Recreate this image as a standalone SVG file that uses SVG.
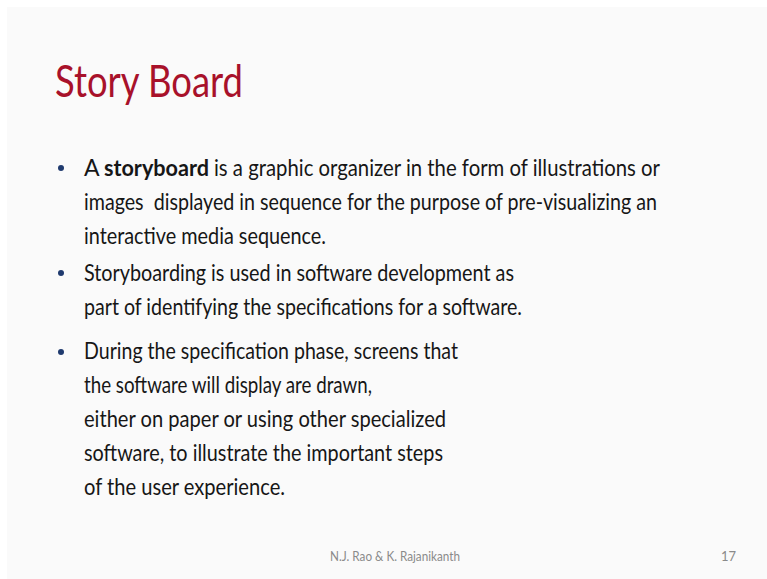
<svg xmlns="http://www.w3.org/2000/svg" width="767" height="579" viewBox="0 0 767 579">
  <style>
    .title { font-family: Lato, "Open Sans", "Liberation Sans", sans-serif; font-size: 45px; fill: #a8112a; }
    .body { font-family: Lato, "Open Sans", "Liberation Sans", sans-serif; font-size: 23px; fill: #161616; }
    .bold { font-weight: bold; }
    .bullet { fill: #1f3a6e; }
    .foot { font-family: Lato, "Open Sans", "Liberation Sans", sans-serif; font-size: 13px; fill: #8a8a8a; }
  </style>
  <rect width="767" height="579" fill="#ffffff"/>
  <rect x="7" y="7" width="760" height="572" fill="#fafafa"/>

  <g id="title">
    <text class="title" x="55" y="97" textLength="188" lengthAdjust="spacingAndGlyphs">Story Board</text>
  </g>

  <g id="bullet-1">
    <circle class="bullet" cx="61" cy="168" r="3"/>
    <text class="body" x="84" y="176">A</text>
    <text class="body bold" x="104" y="176" textLength="105" lengthAdjust="spacingAndGlyphs">storyboard</text>
    <text class="body" x="214" y="176" textLength="446" lengthAdjust="spacingAndGlyphs">is a graphic organizer in the form of illustrations or</text>
    <text class="body" x="84" y="210" textLength="573" lengthAdjust="spacingAndGlyphs">images&#160; displayed in sequence for the purpose of pre-visualizing an</text>
    <text class="body" x="84" y="244" textLength="242" lengthAdjust="spacingAndGlyphs">interactive media sequence.</text>
  </g>

  <g id="bullet-2">
    <circle class="bullet" cx="61" cy="273" r="3"/>
    <text class="body" x="84" y="281" textLength="430" lengthAdjust="spacingAndGlyphs">Storyboarding is used in software development as</text>
    <text class="body" x="84" y="315" textLength="438" lengthAdjust="spacingAndGlyphs">part of identifying the specifications for a software.</text>
  </g>

  <g id="bullet-3">
    <circle class="bullet" cx="61" cy="352" r="3"/>
    <text class="body" x="84" y="359" textLength="374" lengthAdjust="spacingAndGlyphs">During the specification phase, screens that</text>
    <text class="body" x="84" y="393" textLength="288" lengthAdjust="spacingAndGlyphs">the software will display are drawn,</text>
    <text class="body" x="84" y="427" textLength="362" lengthAdjust="spacingAndGlyphs">either on paper or using other specialized</text>
    <text class="body" x="84" y="461" textLength="359" lengthAdjust="spacingAndGlyphs">software, to illustrate the important steps</text>
    <text class="body" x="84" y="495" textLength="201" lengthAdjust="spacingAndGlyphs">of the user experience.</text>
  </g>

  <g id="footer">
    <text class="foot" x="330" y="561" textLength="130" lengthAdjust="spacingAndGlyphs">N.J. Rao &amp; K. Rajanikanth</text>
    <text class="foot" x="721" y="561">17</text>
  </g>
</svg>
